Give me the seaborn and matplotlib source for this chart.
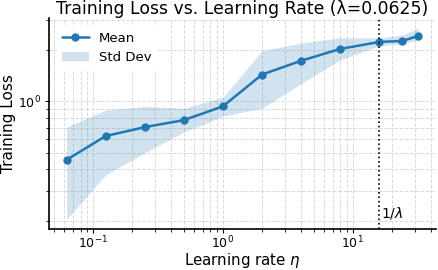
import numpy as np
import pandas as pd
import matplotlib
matplotlib.use("Agg")
import matplotlib.pyplot as plt
import seaborn as sns

learning_rates = [0.0625, 0.125, 0.25, 0.5, 1, 2, 4, 8, 16, 24, 32]
mean_loss = [0.454, 0.626, 0.706, 0.776, 0.935, 1.436, 1.73, 2.03, 2.23, 2.26, 2.42]
upper_loss = [0.706, 0.887, 0.935, 0.911, 1.055, 1.98, 2.20, 2.36, 2.36, 2.45, 2.69]
lower_loss = [0.203, 0.371, 0.499, 0.660, 0.818, 0.911, 1.27, 1.75, 2.12, 2.17, 2.29]
lam = 0.0625

df = pd.DataFrame({"lr": learning_rates, "mean": mean_loss,
                   "upper": upper_loss, "lower": lower_loss})

sns.set_style("ticks", {"text.color": "black", "axes.labelcolor": "black",
                        "xtick.color": "black", "ytick.color": "black"})
plt.rcParams['font.family'] = ['DejaVu Sans']

fig = plt.figure(figsize=(4.39, 2.70), dpi=100)
ax = fig.add_axes([49/439, 1 - 229/270, (436-49)/439, (229-18.5)/270])

color = "#1f77b4"
sns.lineplot(data=df, x="lr", y="mean", marker="o", color=color, ax=ax,
             label="Mean", linewidth=1.8, markersize=6, markeredgewidth=0)
ax.fill_between(df["lr"], df["lower"], df["upper"], color=color, alpha=0.2,
                linewidth=0, label="Std Dev")
ax.set_xscale("log")
ax.set_yscale("log")

ax.axvline(1/lam, color="black", linestyle=":", linewidth=1.2)
ax.text(1/lam * 1.03, 0.198, r"$1/\lambda$", fontsize=10, ha="left", va="bottom",
        color="black")

ax.grid(True, which="both", linestyle="--", color="#d9d9d9", linewidth=0.7)
ax.set_axisbelow(True)
for s in ["top", "right"]:
    ax.spines[s].set_visible(False)
for s in ["left", "bottom"]:
    ax.spines[s].set_color("black")
    ax.spines[s].set_linewidth(1.2)

ax.tick_params(axis="both", which="major", labelsize=9, length=3, width=0.8,
               pad=2.5, colors="black")
ax.tick_params(axis="x", which="major", pad=1.2)
ax.tick_params(axis="both", which="minor", length=2, width=0.6, colors="black")

ax.set_title("Training Loss vs. Learning Rate (\u03bb=0.0625)", fontsize=12.4, pad=3,
             color="black")
ax.set_xlabel(r"Learning rate $\eta$", fontsize=10.8, labelpad=-0.5, color="black")
ax.set_ylabel("Training Loss", fontsize=11, labelpad=2, color="black")

leg = ax.legend(loc="upper left", fontsize=9.5, frameon=True, framealpha=1,
                edgecolor="white", borderaxespad=0.6)
for t in leg.get_texts():
    t.set_color("black")

fig.savefig("out.png", dpi=100)
